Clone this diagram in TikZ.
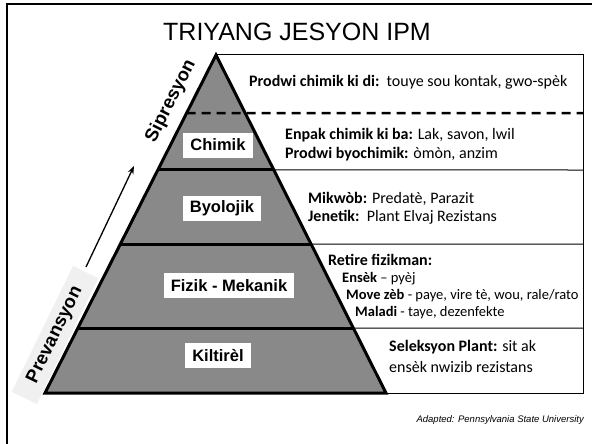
\documentclass[tikz,border=0pt]{standalone}
\usepackage{fontspec}
\setmainfont{Liberation Sans}
\newfontfamily\calfont{Carlito}
\usetikzlibrary{arrows.meta,calc}
\definecolor{pyrgray}{HTML}{898989}
\definecolor{bandgray}{HTML}{F0F0F0}
\begin{document}
\begin{tikzpicture}[x=1pt,y=-1pt,
  lvl/.style={fill=white, font=\bfseries\fontsize{16.5}{19}\selectfont, inner xsep=7pt, inner ysep=0pt, minimum height=25pt},
  desc/.style={anchor=west, font=\calfont\fontsize{16}{18}\selectfont, inner sep=0pt},
  descsm/.style={anchor=west, font=\calfont\fontsize{14.5}{16}\selectfont, inner sep=0pt},
  thinline/.style={line width=1pt},
  heavy/.style={line width=3pt},
  side/.style={font=\bfseries\fontsize{18.5}{20}\selectfont}]
\useasboundingbox (0,0) rectangle (592,444);
\fill[white] (0,0) rectangle (592,444);
% frame
\draw[line width=2.5pt] (7,444) -- (7,4) -- (592,4);
% title
\node[font=\fontsize{25}{30}\selectfont] (title) at (297,32) {TRIYANG JESYON IPM};
% pyramid corners
\coordinate (A) at (216,55);
\coordinate (BL) at (45,393);
\coordinate (BR) at (386,393);
\coordinate (TR) at (583,55);
\coordinate (BRR) at (583,393);
% right box
\draw[thinline] (A) -- (TR) -- (BRR) -- (BR);
% pyramid fill
\fill[pyrgray] (A) -- (BR) -- (BL) -- cycle;
% separators
\foreach \t/\y/\n in {0.3402/170/s1, 0.5592/244/s2, 0.8077/328/s3}{
  \coordinate (\n L) at ($(A)!\t!(BL)$);
  \coordinate (\n R) at ($(A)!\t!(BR)$);
  \coordinate (\n E) at (583,\y);
  \draw[heavy] (\n L) -- (\n R);
  \draw[thinline] (\n R) -- (\n E);
}
% dashed line
\coordinate (dL) at ($(A)!0.1716!(BL)$);
\coordinate (dE) at (583,113);
\draw[line width=2.5pt, dash pattern=on 9pt off 6pt] (dL) -- (dE);
% pyramid outline
\draw[heavy, line join=miter] (A) -- (BR) -- (BL) -- cycle;
% level labels
\node[lvl] (chim) at (218,145) {Chimik};
\node[lvl] (byo) at (222,208.5) {Byolojik};
\node[lvl] (fiz) at (229,285.5) {Fizik - Mekanik};
\node[lvl] (kil) at (218,355.5) {Kiltirèl};
% side labels
\node[side, fill=bandgray, rotate=64, minimum width=140pt, minimum height=28pt, inner sep=0pt] (prev) at (55,335) {Prevansyon};
\node[side, rotate=63] (sip) at (171,101) {Sipresyon};
\coordinate (arrS) at (86,267);
\coordinate (arrE) at (134,166);
\draw[line width=1.3pt, -{Stealth[length=8pt,width=6pt]}] (arrS) -- (arrE);
% descriptions
\node[desc] (d1) at (249,82) {\textbf{Prodwi chimik ki di:}\ \ touye sou kontak, gwo-spèk};
\node[desc] (d2) at (285,135) {\textbf{Enpak chimik ki ba:} Lak, savon, lwil};
\node[desc] (d3) at (285,154) {\textbf{Prodwi byochimik:} òmòn, anzim};
\node[desc] (d4) at (308,199) {\textbf{Mikwòb:} Predatè, Parazit};
\node[desc] (d5) at (308,217) {\textbf{Jenetik:}\ \ Plant Elvaj Rezistans};
\node[desc] (d6) at (328,260) {\textbf{Retire fizikman:}};
\node[descsm] (d7) at (342,279) {\textbf{Ensèk} – pyèj};
\node[descsm] (d8) at (346,296) {\textbf{Move zèb} - paye, vire tè, wou, rale/rato};
\node[descsm] (d9) at (355,313) {\textbf{Maladi} - taye, dezenfekte};
\node[desc] (d10) at (389,347) {\textbf{Seleksyon Plant:} sit ak};
\node[desc] (d11) at (389,367) {ensèk nwizib rezistans};
% credit
\node[anchor=east, font=\itshape\fontsize{9.5}{11}\selectfont, inner sep=0pt] (cred) at (584,420) {Adapted: Pennsylvania State University};
\end{tikzpicture}
\end{document}
